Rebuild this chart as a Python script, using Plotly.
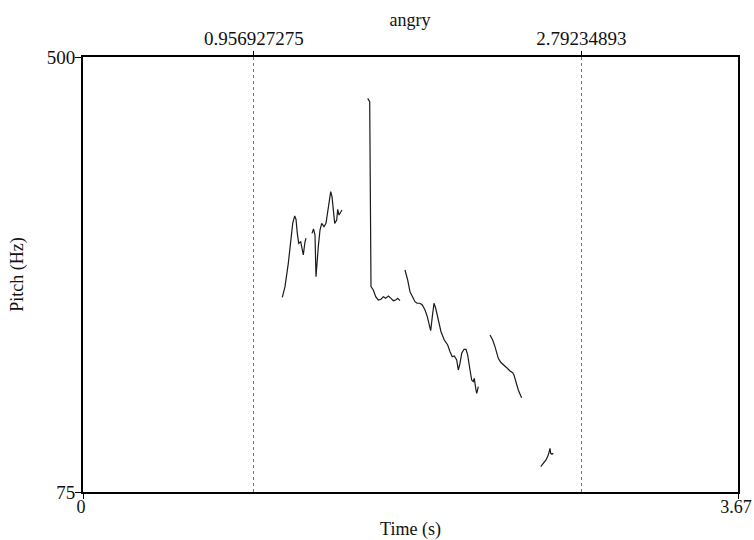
import plotly.graph_objects as go

# Pitch contour of the utterance "angry" (time in s, F0 in Hz), voiced stretches only
seg1_t = [1.1167, 1.1318, 1.1503, 1.1638, 1.1750, 1.1862, 1.1935, 1.2008, 1.2086,
          1.2198, 1.2344, 1.2439, 1.2495]
seg1_f = [265.2, 275.6, 298.4, 318.0, 337.5, 344.7, 341.4, 327.7, 318.0,
          319.5, 306.6, 319.5, 322.9]

seg2_t = [1.2831, 1.2915, 1.2999, 1.3055, 1.3184, 1.3279, 1.3374, 1.3503, 1.3615,
          1.3744, 1.3879, 1.3952, 1.4024, 1.4103, 1.4215, 1.4271, 1.4344, 1.4439, 1.4512]
seg2_f = [327.7, 332.0, 326.1, 285.4, 314.7, 331.0, 337.5, 334.2, 337.5,
          353.7, 368.4, 363.5, 347.3, 337.5, 340.7, 351.2, 345.6, 348.9, 350.5]

seg3_t = [1.5952, 1.6064, 1.6137, 1.6266, 1.6400, 1.6546, 1.6697, 1.6826, 1.6960,
          1.7106, 1.7257, 1.7386, 1.7521, 1.7633, 1.7762]
seg3_f = [459.6, 456.3, 275.6, 272.4, 265.8, 262.6, 263.3, 265.8, 264.2,
          266.5, 264.2, 261.9, 262.6, 264.2, 261.9]

seg4_t = [1.8042, 1.8193, 1.8322, 1.8451, 1.8602, 1.8714, 1.8882, 1.9011, 1.9163,
          1.9291, 1.9403, 1.9482, 1.9572, 1.9667, 1.9762, 1.9908, 2.0059, 2.0244,
          2.0435, 2.0563, 2.0692, 2.0804, 2.0939, 2.1028, 2.1124, 2.1219, 2.1348,
          2.1460, 2.1555, 2.1684, 2.1779, 2.1869, 2.1925, 2.2003, 2.2059, 2.2115, 2.2149]
seg4_f = [291.9, 282.1, 270.7, 265.8, 260.9, 259.4, 259.4, 257.7, 252.8,
          246.3, 238.2, 232.6, 246.3, 259.4, 254.5, 241.4, 231.6, 223.5,
          218.6, 212.1, 207.2, 207.9, 204.0, 194.2, 200.7, 210.5, 214.4,
          214.4, 208.8, 194.2, 184.4, 182.8, 186.1, 176.3, 171.4, 175.3, 177.9]

seg5_t = [2.2804, 2.2955, 2.3084, 2.3179, 2.3269, 2.3404, 2.3589, 2.3774, 2.3925,
          2.4076, 2.4149, 2.4261, 2.4390, 2.4525, 2.4580]
seg5_f = [228.4, 223.5, 217.0, 210.5, 205.6, 201.7, 199.1, 195.9, 193.2,
          191.6, 189.3, 181.2, 174.7, 169.1, 167.1]

seg6_t = [2.5645, 2.5791, 2.5942, 2.6071, 2.6127, 2.6166, 2.6205, 2.6278, 2.6351]
seg6_f = [99.7, 103.0, 106.3, 111.1, 114.4, 117.7, 112.8, 111.8, 112.8]

segments = [(seg1_t, seg1_f), (seg2_t, seg2_f), (seg3_t, seg3_f),
            (seg4_t, seg4_f), (seg5_t, seg5_f), (seg6_t, seg6_f)]

# Interval boundaries marked along the top axis
boundary_times = [0.956927275, 2.79234893]
boundary_labels = ["0.956927275", "2.79234893"]

x_range = [0, 3.67]
y_range = [75, 500]

FONT = "Liberation Serif, Times New Roman, serif"
TICK_SIZE = 19

fig = go.Figure()
for t, f in segments:
    fig.add_trace(go.Scatter(x=t, y=f, mode="lines",
                             line=dict(color="#1a1a1a", width=1.2),
                             showlegend=False, hoverinfo="skip"))

# invisible trace to activate the top axis
fig.add_trace(go.Scatter(x=boundary_times, y=[None, None], xaxis="x2",
                         mode="markers", showlegend=False, hoverinfo="skip"))

fig.update_layout(
    width=754, height=540,
    margin=dict(l=83, r=16, t=57, b=48),
    paper_bgcolor="white", plot_bgcolor="white",
    font=dict(family=FONT, size=TICK_SIZE, color="#111111"),
    title=dict(text="angry", x=410 / 754, xanchor="center",
               y=1 - 20 / 540, yanchor="middle", yref="container",
               font=dict(family=FONT, size=18, color="#111111")),
    xaxis=dict(range=x_range, tickvals=x_range, ticktext=["0", "3.67"],
               ticks="outside", ticklen=5, tickwidth=1, tickcolor="black",
               showline=True, linecolor="black", linewidth=1.8, mirror=True,
               showgrid=False, zeroline=False, automargin=False,
               ticklabelstandoff=-8, ticklabelshift=-2, ticklabeloverflow="allow",
               title=dict(text="Time (s)", standoff=9,
                          font=dict(family=FONT, size=18)),
               tickfont=dict(family=FONT, size=18)),
    xaxis2=dict(range=x_range, overlaying="x", side="top",
                tickvals=boundary_times, ticktext=boundary_labels,
                ticks="outside", ticklen=5, tickwidth=1, tickcolor="black",
                showline=False, zeroline=False, automargin=False,
                ticklabelstandoff=-2, ticklabeloverflow="allow",
                showgrid=True, gridcolor="#777777", gridwidth=0.8, griddash="dot",
                tickfont=dict(family=FONT, size=TICK_SIZE)),
    yaxis=dict(range=y_range, tickvals=y_range, ticktext=["75", "500"],
               ticks="outside", ticklen=6, tickwidth=1, tickcolor="black",
               showline=True, linecolor="black", linewidth=1.8, mirror=True,
               showgrid=False, zeroline=False, automargin=False,
               ticklabelstandoff=-4, ticklabeloverflow="allow",
               title=dict(text="Pitch (Hz)", standoff=18,
                          font=dict(family=FONT, size=18)),
               tickfont=dict(family=FONT, size=TICK_SIZE)),
)

fig.write_html("out.html")
